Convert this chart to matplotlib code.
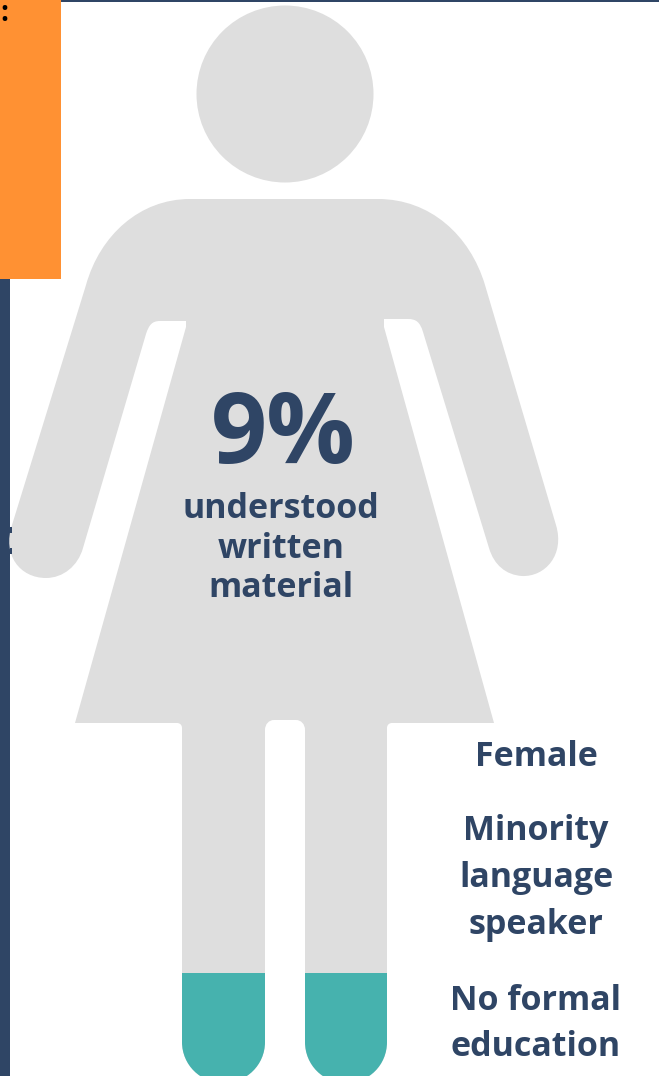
import matplotlib
matplotlib.use("Agg")
import matplotlib.pyplot as plt
from matplotlib.patches import Circle, PathPatch, Rectangle
from matplotlib.path import Path

# Share of the group and the text around the figure
share_percent = 9
share_caption = ["understood", "written", "material"]
group_labels = ["Female", "Minority\nlanguage\nspeaker", "No formal\neducation"]

NAVY = "#2F4565"
ORANGE = "#FF9133"
GREY = "#DEDEDE"
TEAL = "#46B2AE"

WIDTH, HEIGHT = 659, 1076
PX_PER_PERCENT = 12.2   # figure scale for the filled level
FOOT_BOTTOM = 1083


def silhouette():
    """Outline of the figure's body, in pixel coordinates."""
    M, L, C = Path.MOVETO, Path.LINETO, Path.CURVE4
    k = 0.5523
    r = 41.5
    verts, codes = [], []

    def move(p):
        verts.append(p); codes.append(M)

    def line(p):
        verts.append(p); codes.append(L)

    def curve(a, b, c):
        verts.extend([a, b, c]); codes.extend([C, C, C])

    move((190, 199))
    line((378, 199))
    curve((430, 199), (470, 235), (485, 285))          # right shoulder
    line((556, 525))
    curve((565, 555), (545, 577), (522, 576))          # right hand
    curve((506, 575), (494, 565), (489, 548))
    line((423, 332))
    curve((420, 322), (416, 319), (408, 319))
    line((384, 319))
    line((384, 327))
    line((494, 723))
    line((392, 723))
    curve((389, 723), (387, 725), (387, 728))
    line((387, 1042))
    curve((387, 1042 + r * k), (346 + r * k, FOOT_BOTTOM), (346, FOOT_BOTTOM))
    curve((346 - r * k, FOOT_BOTTOM), (305, 1042 + r * k), (305, 1042))
    line((305, 730))
    curve((305, 724), (301, 720), (296, 720))
    line((274, 720))
    curve((269, 720), (265, 724), (265, 730))
    line((265, 1042))
    curve((265, 1042 + r * k), (223.5 + r * k, FOOT_BOTTOM), (223.5, FOOT_BOTTOM))
    curve((223.5 - r * k, FOOT_BOTTOM), (182, 1042 + r * k), (182, 1042))
    line((182, 728))
    curve((182, 725), (180, 723), (177, 723))
    line((75, 723))
    line((186, 327))
    line((186, 321))
    line((160, 321))
    curve((152, 321), (149, 325), (146, 334))
    line((83, 548))
    curve((78, 566), (63, 578), (46, 578))
    curve((20, 578), (2, 555), (12, 525))              # left hand
    line((86, 285))
    curve((100, 235), (140, 199), (190, 199))          # left shoulder
    verts.append((190, 199)); codes.append(Path.CLOSEPOLY)
    return Path(verts, codes)


plt.rcParams["font.family"] = ["Open Sans", "DejaVu Sans"]
fig = plt.figure(figsize=(WIDTH / 100, HEIGHT / 100), dpi=100)
ax = fig.add_axes([0, 0, 1, 1])
ax.set_xlim(0, WIDTH)
ax.set_ylim(HEIGHT, 0)
ax.axis("off")

# Page furniture behind the figure
ax.add_patch(Rectangle((0, 0), 10, HEIGHT, color=NAVY, lw=0, zorder=1))
ax.add_patch(Rectangle((0, 0), WIDTH, 2, color=NAVY, lw=0, zorder=1))
ax.add_patch(Rectangle((0, 0), 61, 279, color=ORANGE, lw=0, zorder=4))
ax.text(0, 21, ":", fontsize=20, fontweight="bold", color="black",
        ha="left", va="baseline", zorder=5)

# Head and body
ax.add_patch(Circle((285, 94), 88.5, color=GREY, lw=0, zorder=2))
body = PathPatch(silhouette(), facecolor=GREY, edgecolor="none", zorder=2)
ax.add_patch(body)

# Small marks of the sidebar lettering that stick out past the edge
ax.add_patch(Rectangle((10, 527), 2, 6, color=NAVY, lw=0, zorder=3))
ax.add_patch(Rectangle((10, 548), 1.5, 6, color=NAVY, lw=0, zorder=3))

# Filled level, clipped to the body outline
level_top = FOOT_BOTTOM - share_percent * PX_PER_PERCENT
fill = Rectangle((150, level_top), 270, FOOT_BOTTOM - level_top,
                 facecolor=TEAL, edgecolor="none", zorder=3)
ax.add_patch(fill)
fill.set_clip_path(body)

# Text inside the figure
ax.text(283, 437, f"{share_percent}%", fontsize=71, fontweight="bold", color=NAVY,
        ha="center", va="center", zorder=6)
for y, word in zip([509, 549, 588], share_caption):
    ax.text(281, y, word, fontsize=24.5, fontweight="bold", color=NAVY,
            ha="center", va="center", zorder=6)

# Group description, lower right
for y, label in zip([757, 878, 1024], group_labels):
    ax.text(536, y, label, fontsize=24.5, fontweight="bold", color=NAVY,
            ha="center", va="center", linespacing=1.5, zorder=6)

fig.savefig("out.png", dpi=100, facecolor="white")
